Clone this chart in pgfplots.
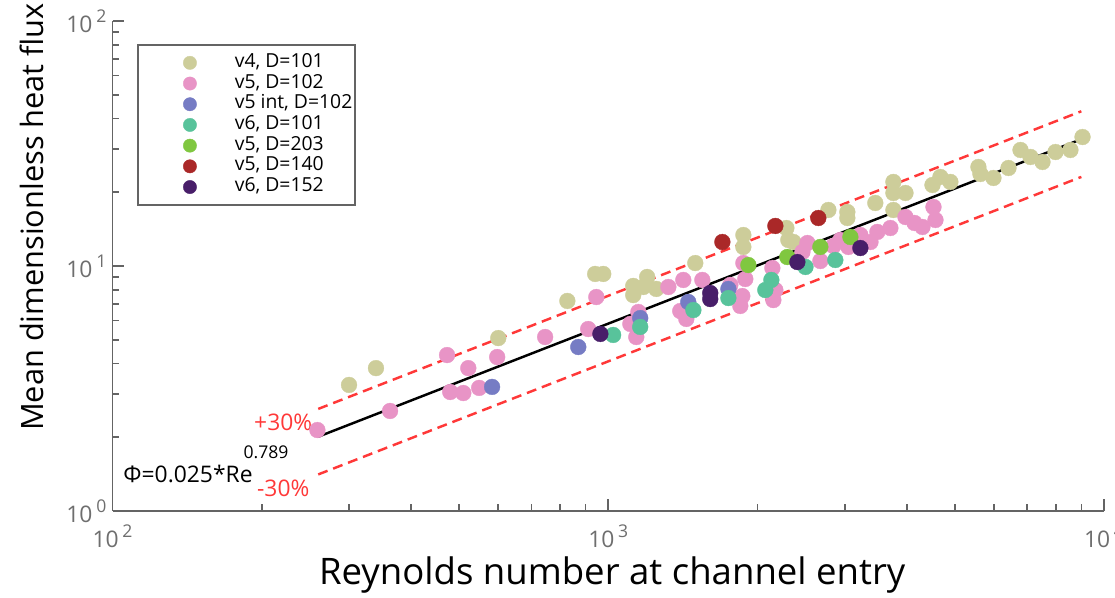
\documentclass[border=0pt]{standalone}
\usepackage{fontspec}
\setmainfont{Open Sans}
\usepackage{pgfplots}
\pgfplotsset{compat=1.18}

\definecolor{axgray}{HTML}{646464}
\definecolor{lblgray}{HTML}{6E6E6E}
\definecolor{cV4}{HTML}{CDCD9A}
\definecolor{cV5}{HTML}{E894C6}
\definecolor{cV5int}{HTML}{767CC4}
\definecolor{cV6}{HTML}{58C39B}
\definecolor{cV5b}{HTML}{80C740}
\definecolor{cV5c}{HTML}{AA2828}
\definecolor{cV6b}{HTML}{481E69}
\definecolor{fitred}{HTML}{FF3838}

\newcommand{\tl}[1]{10\,\raisebox{0.45em}{\fontsize{10}{10}\selectfont #1}}

% marks only; the legend image keeps an empty strip left of the dot
\pgfplotsset{
  pt/.style={only marks, mark=*, mark size=4.5pt,
    mark options={draw=#1, fill=#1, line width=0.2pt},
    legend image code/.code={\path (0cm,0cm) (1.85cm,0cm);
      \draw[line width=0.2pt, ##1, mark size=3.8pt] plot coordinates {(1.02cm,0cm)};}},
}

\begin{document}
\begin{tikzpicture}
\useasboundingbox (-2.25,-1.74) rectangle (20.05,10.22);
\begin{axis}[
  at={(0,0)}, anchor=south west,
  scale only axis, width=19.83cm, height=9.8cm,
  xmode=log, ymode=log,
  xmin=100, xmax=10000, ymin=1, ymax=100,
  axis x line*=bottom, axis y line*=left,
  axis line style={draw=axgray, line width=1.1pt},
  every tick/.style={draw=axgray, line width=0.9pt},
  tick align=inside,
  major tick length=0.24cm, minor tick length=0.14cm,
  xtick={100,1000,10000},
  xticklabels={\tl{2},\tl{3},\tl{4}},
  minor xtick={200,300,400,500,600,700,800,900,2000,3000,4000,5000,6000,7000,8000,9000},
  ytick={1,10,100},
  yticklabels={\tl{0},\tl{1},\tl{2}},
  minor ytick={2,3,4,5,6,7,8,9,20,30,40,50,60,70,80,90},
  tick label style={font=\fontsize{13}{13}\selectfont, text=lblgray},
  xticklabel style={yshift=-0.15cm},
  xlabel={Reynolds number at channel entry},
  ylabel={Mean dimensionless heat flux},
  xlabel style={font=\fontsize{20.8}{20.8}\selectfont,
    at={(axis description cs:0.504,-0.1306)}, anchor=center},
  ylabel style={font=\fontsize{17.5}{17.5}\selectfont,
    at={(axis description cs:-0.0812,0.6)}, anchor=center},
  legend style={at={(axis description cs:0.0247,0.953)}, anchor=north west,
    draw=axgray, line width=1.1pt, inner xsep=0pt, inner ysep=0.15cm,
    font=\fontsize{11}{11}\selectfont,
    nodes={inner xsep=0.05cm, inner ysep=0pt, text height=0.3cm, text depth=0.114cm}},
  legend cell align=left,
]
\addplot[pt=cV4] coordinates {
  (300,3.27) (340,3.83) (600,5.08) (827,7.20) (941,9.28) (977,9.28)
  (1123,8.29) (1123,7.61) (1198,9.02) (1177,8.21) (1250,8.06) (1498,10.28)
  (1873,13.38) (1873,11.96) (2287,14.29) (2308,12.77) (2363,12.53)
  (2780,16.93) (3036,16.61) (3036,15.70) (3457,18.08) (3760,22.03)
  (3760,19.86) (3977,19.86) (3760,16.93) (4508,21.41) (4677,23.08)
  (4899,22.03) (5580,25.36) (5633,23.74) (5984,22.87) (6417,25.12)
  (6785,29.75) (7108,27.86) (7515,26.58) (7984,29.19) (8556,29.75) (9050,33.61)
};
\addplot[pt=cV5] coordinates {
  (259,2.14) (363,2.56) (473,4.33) (480,3.06) (510,3.03) (522,3.83)
  (549,3.18) (597,4.25) (746,5.13) (911,5.53) (946,7.47) (1108,5.80)
  (1139,5.13) (1150,6.49) (1322,8.21) (1417,8.77) (1548,8.77) (1397,6.55)
  (1437,6.08) (1763,8.37) (1873,10.28) (1890,8.85) (1864,7.54) (1847,6.87)
  (2143,9.81) (2173,7.98) (2153,7.26) (2522,12.41) (2464,11.41) (2678,10.48)
  (2845,12.07) (2939,12.77) (3051,11.96) (3225,13.38) (3380,12.53)
  (3490,13.77) (3708,14.29) (3977,15.85) (4147,14.98) (4303,14.43)
  (4529,17.41) (4571,15.41)
};
\addplot[pt=cV5int] coordinates {
  (583,3.21) (870,4.67) (1160,6.13) (1450,7.13) (1747,8.06)
};
\addplot[pt=cV6] coordinates {
  (1023,5.23) (1160,5.64) (1485,6.61) (1747,7.40) (2074,7.98) (2133,8.77)
  (2499,9.91) (2871,10.58)
};
\addplot[pt=cV5b] coordinates {
  (1917,10.09) (2297,10.88) (2678,11.96) (3079,13.13)
};
\addplot[pt=cV5c] coordinates {
  (1699,12.53) (2173,14.57) (2653,15.70)
};
\addplot[pt=cV6b] coordinates {
  (964,5.28) (1606,7.76) (1606,7.33) (2407,10.38) (3225,11.84)
};
\legend{v4{,} D=101, v5{,} D=102, v5 int{,} D=102, v6{,} D=101,
  v5{,} D=203, v5{,} D=140, v6{,} D=152}

% fit and +/-30% band
\addplot[black, line width=1.4pt, forget plot] coordinates {(260,2.01) (9200,33.5)};
\addplot[fitred, line width=1.4pt, dash pattern=on 0.2cm off 0.12cm, forget plot]
  coordinates {(260,2.61) (9000,42.8)};
\addplot[fitred, line width=1.4pt, dash pattern=on 0.2cm off 0.12cm, forget plot]
  coordinates {(260,1.41) (9000,23.1)};

\node[text=fitred, font=\fontsize{13}{13}\selectfont] at (axis cs:221,2.31) {+30\%};
\node[text=fitred, font=\fontsize{13}{13}\selectfont] at (axis cs:221,1.24) {-30\%};
\node[font=\fontsize{13}{13}\selectfont] at (axis cs:142,1.42) {Φ=0.025*Re};
\node[font=\fontsize{10}{10}\selectfont] at (axis cs:204,1.74) {0.789};
\end{axis}
\end{tikzpicture}
\end{document}
